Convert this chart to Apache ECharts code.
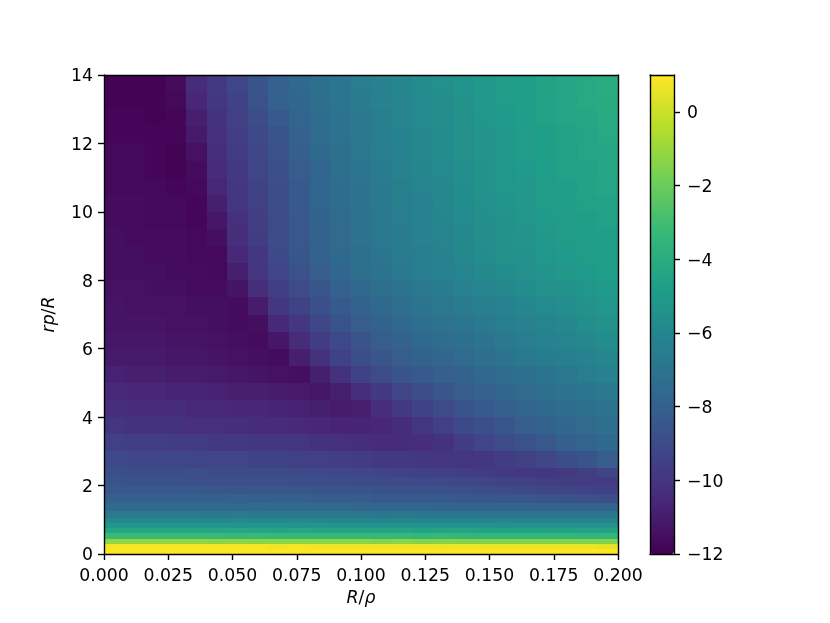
<!DOCTYPE html>
<html>
<head>
<meta charset="utf-8">
<style>
  html, body { margin: 0; padding: 0; background: #fff; }
  #main { width: 830px; height: 623px; }
</style>
<script src="https://cdn.jsdelivr.net/npm/echarts@6/dist/echarts.min.js"></script>
</head>
<body>
<div id="main"></div>
<script>
// cell edges in data units
const xEdges = [0, 0.008, 0.016, 0.024, 0.032, 0.04, 0.048, 0.056, 0.064, 0.072, 0.08, 0.088, 0.096, 0.104, 0.112, 0.12, 0.128, 0.136, 0.144, 0.152, 0.16, 0.168, 0.176, 0.184, 0.192, 0.2]
const yEdges = [14, 13.5, 13, 12.5, 12, 11.5, 11, 10.5, 10, 9.5, 9, 8.5, 8, 7.5, 7, 6.5, 6, 5.5, 5, 4.5, 4, 3.5, 3, 2.5, 2.25, 2, 1.75, 1.5, 1.25, 1.05, 0.9, 0.75, 0.6, 0.45, 0.3, 0.15, 0]

// log values, top row first
const zValues = [
  [-11.9,-11.9,-11.9,-11.6,-10.4,-9.8,-9.2,-8.6,-8.0,-7.6,-7.2,-6.9,-6.5,-6.3,-6.0,-5.7,-5.5,-5.3,-5.1,-4.9,-4.7,-4.5,-4.3,-4.2,-4.0],
  [-11.9,-11.9,-11.9,-11.7,-10.6,-9.9,-9.4,-8.7,-8.0,-7.7,-7.3,-6.9,-6.6,-6.3,-6.1,-5.8,-5.6,-5.4,-5.1,-4.9,-4.7,-4.5,-4.4,-4.2,-4.1],
  [-11.8,-11.8,-11.9,-11.8,-10.9,-10.1,-9.5,-8.9,-8.3,-7.8,-7.4,-7.0,-6.7,-6.4,-6.1,-5.8,-5.6,-5.4,-5.2,-5.0,-4.8,-4.6,-4.4,-4.3,-4.1],
  [-11.8,-11.8,-11.8,-11.8,-11.1,-10.2,-9.6,-9.1,-8.6,-8.0,-7.5,-7.1,-6.7,-6.4,-6.2,-5.9,-5.7,-5.5,-5.3,-5.1,-4.9,-4.7,-4.5,-4.4,-4.2],
  [-11.7,-11.7,-11.8,-11.9,-11.4,-10.3,-9.7,-9.2,-8.7,-8.1,-7.6,-7.2,-6.8,-6.5,-6.2,-5.9,-5.7,-5.5,-5.3,-5.1,-4.9,-4.7,-4.6,-4.4,-4.3],
  [-11.7,-11.7,-11.8,-11.9,-11.6,-10.4,-9.8,-9.3,-8.8,-8.2,-7.8,-7.3,-6.9,-6.6,-6.3,-6.0,-5.8,-5.6,-5.4,-5.2,-5.0,-4.8,-4.6,-4.5,-4.3],
  [-11.7,-11.7,-11.7,-11.8,-11.7,-10.6,-9.9,-9.4,-8.9,-8.3,-7.8,-7.4,-7.0,-6.7,-6.4,-6.1,-5.9,-5.7,-5.4,-5.2,-5.1,-4.9,-4.7,-4.5,-4.4],
  [-11.6,-11.6,-11.7,-11.7,-11.8,-10.9,-10.0,-9.5,-8.9,-8.3,-7.8,-7.4,-7.0,-6.7,-6.4,-6.2,-5.9,-5.7,-5.5,-5.3,-5.1,-4.9,-4.8,-4.6,-4.5],
  [-11.6,-11.6,-11.7,-11.7,-11.8,-11.2,-10.2,-9.6,-9.0,-8.4,-7.9,-7.5,-7.1,-6.8,-6.5,-6.2,-6.0,-5.8,-5.6,-5.4,-5.2,-5.0,-4.9,-4.7,-4.6],
  [-11.5,-11.6,-11.6,-11.6,-11.7,-11.5,-10.3,-9.7,-9.0,-8.4,-7.9,-7.5,-7.1,-6.8,-6.6,-6.3,-6.1,-5.9,-5.6,-5.4,-5.3,-5.1,-4.9,-4.8,-4.7],
  [-11.5,-11.5,-11.6,-11.6,-11.7,-11.7,-10.5,-9.9,-9.1,-8.5,-8.0,-7.6,-7.2,-6.9,-6.6,-6.4,-6.2,-5.9,-5.7,-5.5,-5.4,-5.2,-5.0,-4.9,-4.7],
  [-11.5,-11.5,-11.5,-11.6,-11.6,-11.7,-10.9,-10.0,-9.3,-8.7,-8.2,-7.7,-7.3,-7.0,-6.8,-6.5,-6.3,-6.1,-5.9,-5.7,-5.5,-5.3,-5.1,-5.0,-4.8],
  [-11.4,-11.4,-11.5,-11.5,-11.6,-11.6,-11.3,-10.3,-9.6,-9.0,-8.5,-8.0,-7.6,-7.3,-7.0,-6.8,-6.6,-6.3,-6.1,-5.9,-5.7,-5.5,-5.4,-5.2,-5.0],
  [-11.3,-11.4,-11.4,-11.4,-11.5,-11.5,-11.6,-11.0,-9.9,-9.4,-8.8,-8.3,-7.9,-7.6,-7.3,-7.0,-6.8,-6.6,-6.4,-6.2,-6.0,-5.8,-5.6,-5.4,-5.2],
  [-11.3,-11.3,-11.3,-11.4,-11.4,-11.5,-11.6,-11.5,-10.5,-9.9,-9.2,-8.7,-8.2,-7.9,-7.6,-7.3,-7.1,-6.9,-6.7,-6.4,-6.3,-6.1,-5.9,-5.6,-5.4],
  [-11.2,-11.2,-11.2,-11.3,-11.3,-11.4,-11.5,-11.6,-11.2,-10.4,-9.7,-9.1,-8.6,-8.2,-7.9,-7.6,-7.4,-7.2,-7.0,-6.7,-6.5,-6.3,-6.1,-5.9,-5.7],
  [-11.1,-11.1,-11.1,-11.2,-11.2,-11.3,-11.4,-11.5,-11.6,-10.9,-10.1,-9.4,-8.9,-8.5,-8.2,-7.9,-7.7,-7.5,-7.3,-7.0,-6.8,-6.6,-6.4,-6.2,-6.0],
  [-10.8,-10.9,-10.9,-11.0,-11.0,-11.1,-11.2,-11.3,-11.4,-11.5,-10.9,-10.1,-9.4,-9.0,-8.6,-8.3,-8.1,-7.9,-7.6,-7.4,-7.2,-7.0,-6.8,-6.5,-6.3],
  [-10.5,-10.6,-10.6,-10.7,-10.7,-10.8,-10.9,-10.9,-11.0,-11.1,-11.2,-10.9,-10.3,-9.8,-9.3,-8.9,-8.5,-8.2,-8.0,-7.7,-7.5,-7.3,-7.1,-6.9,-6.7],
  [-10.3,-10.4,-10.4,-10.4,-10.5,-10.5,-10.6,-10.6,-10.7,-10.8,-10.9,-11.0,-10.9,-10.3,-9.8,-9.4,-9.0,-8.6,-8.3,-8.1,-7.8,-7.6,-7.4,-7.2,-7.0],
  [-10.0,-10.1,-10.1,-10.1,-10.2,-10.2,-10.3,-10.4,-10.4,-10.5,-10.6,-10.7,-10.7,-10.6,-10.4,-10.0,-9.5,-9.1,-8.8,-8.5,-8.2,-7.9,-7.7,-7.5,-7.3],
  [-9.5,-9.6,-9.6,-9.7,-9.7,-9.8,-9.8,-9.9,-9.9,-10.0,-10.1,-10.2,-10.3,-10.4,-10.4,-10.3,-10.1,-9.7,-9.3,-9.0,-8.7,-8.4,-8.1,-7.8,-7.6],
  [-9.1,-9.2,-9.2,-9.2,-9.3,-9.3,-9.3,-9.4,-9.4,-9.5,-9.5,-9.6,-9.7,-9.8,-9.8,-9.9,-10.0,-10.0,-9.9,-9.7,-9.5,-9.2,-8.9,-8.6,-8.2],
  [-8.8,-8.9,-8.9,-8.9,-8.9,-9.0,-9.0,-9.0,-9.0,-9.1,-9.1,-9.2,-9.2,-9.3,-9.4,-9.4,-9.5,-9.6,-9.7,-9.8,-9.9,-9.9,-9.8,-9.6,-9.3],
  [-8.6,-8.7,-8.7,-8.7,-8.8,-8.8,-8.8,-8.8,-8.8,-8.9,-8.9,-8.9,-9.0,-9.0,-9.0,-9.1,-9.1,-9.2,-9.3,-9.4,-9.5,-9.6,-9.7,-9.7,-9.7],
  [-8.4,-8.4,-8.4,-8.4,-8.4,-8.4,-8.5,-8.5,-8.5,-8.5,-8.6,-8.6,-8.6,-8.7,-8.7,-8.7,-8.8,-8.8,-8.9,-9.0,-9.1,-9.2,-9.3,-9.4,-9.5],
  [-8.0,-8.0,-8.0,-8.0,-8.0,-8.1,-8.0,-8.1,-8.1,-8.1,-8.2,-8.2,-8.2,-8.3,-8.3,-8.3,-8.3,-8.4,-8.4,-8.5,-8.5,-8.6,-8.7,-8.8,-8.9],
  [-7.5,-7.5,-7.5,-7.5,-7.5,-7.6,-7.6,-7.5,-7.6,-7.6,-7.6,-7.6,-7.7,-7.7,-7.7,-7.7,-7.8,-7.8,-7.8,-7.8,-7.8,-7.9,-7.9,-7.9,-7.9],
  [-6.7,-6.7,-6.7,-6.7,-6.7,-6.8,-6.7,-6.8,-6.8,-6.8,-6.8,-6.8,-6.8,-6.9,-6.8,-6.9,-6.9,-6.9,-6.9,-6.9,-6.9,-6.9,-6.9,-6.9,-6.9],
  [-5.9,-5.9,-5.9,-5.9,-5.9,-6.0,-5.9,-5.9,-6.0,-5.9,-6.0,-6.0,-6.0,-6.0,-6.0,-6.0,-6.0,-6.0,-6.1,-6.0,-6.1,-6.1,-6.1,-6.1,-6.1],
  [-5.2,-5.2,-5.2,-5.2,-5.2,-5.2,-5.3,-5.2,-5.2,-5.3,-5.2,-5.3,-5.3,-5.3,-5.3,-5.3,-5.3,-5.3,-5.3,-5.4,-5.3,-5.4,-5.4,-5.4,-5.4],
  [-4.3,-4.3,-4.3,-4.3,-4.3,-4.4,-4.3,-4.3,-4.4,-4.3,-4.4,-4.4,-4.4,-4.4,-4.4,-4.5,-4.4,-4.4,-4.5,-4.5,-4.5,-4.5,-4.5,-4.5,-4.5],
  [-3.2,-3.2,-3.2,-3.2,-3.2,-3.2,-3.3,-3.2,-3.3,-3.3,-3.3,-3.3,-3.3,-3.3,-3.3,-3.4,-3.3,-3.4,-3.4,-3.4,-3.4,-3.4,-3.4,-3.5,-3.4],
  [-1.2,-1.2,-1.2,-1.2,-1.2,-1.3,-1.2,-1.3,-1.3,-1.3,-1.3,-1.3,-1.3,-1.4,-1.3,-1.4,-1.4,-1.4,-1.4,-1.4,-1.4,-1.5,-1.4,-1.5,-1.5],
  [0.8,0.8,0.8,0.8,0.8,0.8,0.8,0.8,0.7,0.8,0.7,0.7,0.7,0.7,0.7,0.7,0.6,0.7,0.6,0.6,0.6,0.6,0.6,0.6,0.5],
  [1,1,1,1,1,1,1,1,1,1,1,1,1,1,1,1,1,1,1,1,1,1,1,1,1]
]

const zMin = -12
const zMax = 1
const xTicks = [0, 0.025, 0.05, 0.075, 0.1, 0.125, 0.15, 0.175, 0.2]
const colorbarTicks = [-12, -10, -8, -6, -4, -2, 0]
const viridis = ['#440154', '#482878', '#3e4989', '#31688e', '#26828e', '#1f9e89', '#35b779', '#6ece58', '#b5de2b', '#fde725']

const fontFamily = '"DejaVu Sans", sans-serif'
const fontSize = 17.3
const lineWidth = 1.4

// one row per cell: x0, x1, y0, y1, z
const cells = []
zValues.forEach((row, r) => {
  row.forEach((z, c) => {
    cells.push([xEdges[c], xEdges[c + 1], yEdges[r + 1], yEdges[r], z])
  })
})

function renderCell(params, api) {
  const a = api.coord([api.value(0), api.value(3)])
  const b = api.coord([api.value(1), api.value(2)])
  const x = Math.round(a[0])
  const y = Math.round(a[1])
  return {
    type: 'rect',
    shape: { x, y, width: Math.round(b[0]) - x, height: Math.round(b[1]) - y },
    style: { fill: api.visual('color') }
  }
}

const line = { show: true, onZero: false, lineStyle: { color: '#000', width: lineWidth } }
const tick = { show: true, length: 6, lineStyle: { color: '#000', width: lineWidth } }
const label = { color: '#000', fontSize, fontFamily }
const nameStyle = {
  color: '#000',
  fontSize,
  fontFamily,
  rich: { i: { fontStyle: 'italic', fontSize, fontFamily, color: '#000' } }
}

const chart = echarts.init(document.getElementById('main'), null, { renderer: 'canvas' })
chart.setOption({
  animation: false,
  backgroundColor: '#fff',
  grid: [
    { left: 104, top: 75, width: 514, height: 479, containLabel: false },
    { left: 650, top: 75, width: 24, height: 479, containLabel: false }
  ],
  xAxis: [
    {
      type: 'value', gridIndex: 0, min: 0, max: 0.2, interval: 0.025, position: 'bottom', z: 10,
      name: '{i|R}/{i|ρ}', nameLocation: 'middle', nameGap: 36, nameTextStyle: nameStyle,
      axisLine: line, axisTick: tick, splitLine: { show: false },
      axisLabel: { ...label, margin: 14, customValues: xTicks, showMinLabel: true, showMaxLabel: true, formatter: v => v.toFixed(3) }
    },
    {
      type: 'value', gridIndex: 0, min: 0, max: 0.2, position: 'top', z: 10,
      axisLine: line, axisTick: { show: false }, axisLabel: { show: false }, splitLine: { show: false }
    },
    {
      type: 'value', gridIndex: 1, min: 0, max: 1, position: 'bottom', z: 10,
      axisLine: line, axisTick: { show: false }, axisLabel: { show: false }, splitLine: { show: false }
    },
    {
      type: 'value', gridIndex: 1, min: 0, max: 1, position: 'top', z: 10,
      axisLine: line, axisTick: { show: false }, axisLabel: { show: false }, splitLine: { show: false }
    }
  ],
  yAxis: [
    {
      type: 'value', gridIndex: 0, min: 0, max: 14, interval: 2, position: 'left', z: 10,
      name: '{i|rp}/{i|R}', nameLocation: 'middle', nameGap: 46, nameTextStyle: nameStyle,
      axisLine: line, axisTick: tick, splitLine: { show: false },
      // thin line box set on the tick, this puts the digits level with it
      axisLabel: { ...label, margin: 11, verticalAlign: 'top', lineHeight: 4 }
    },
    {
      type: 'value', gridIndex: 0, min: 0, max: 14, position: 'right', z: 10,
      axisLine: line, axisTick: { show: false }, axisLabel: { show: false }, splitLine: { show: false }
    },
    {
      type: 'value', gridIndex: 1, min: zMin, max: zMax, position: 'right', z: 10,
      axisLine: line,
      axisTick: { ...tick, customValues: colorbarTicks },
      splitLine: { show: false },
      axisLabel: { ...label, margin: 13, verticalAlign: 'top', lineHeight: 4, customValues: colorbarTicks, formatter: v => String(v).replace('-', '−') }
    },
    {
      type: 'value', gridIndex: 1, min: zMin, max: zMax, position: 'left', z: 10,
      axisLine: line, axisTick: { show: false }, axisLabel: { show: false }, splitLine: { show: false }
    }
  ],
  visualMap: {
    type: 'continuous',
    min: zMin,
    max: zMax,
    dimension: 4,
    seriesIndex: 0,
    calculable: false,
    realtime: false,
    hoverLink: false,
    left: 650,
    top: 75,
    padding: 0,
    itemWidth: 24,
    itemHeight: 479,
    inRange: { color: viridis }
  },
  series: [
    {
      type: 'custom',
      xAxisIndex: 0,
      yAxisIndex: 0,
      coordinateSystem: 'cartesian2d',
      silent: true,
      clip: true,
      renderItem: renderCell,
      encode: { x: [0, 1], y: [2, 3] },
      data: cells
    }
  ]
})
</script>
</body>
</html>
